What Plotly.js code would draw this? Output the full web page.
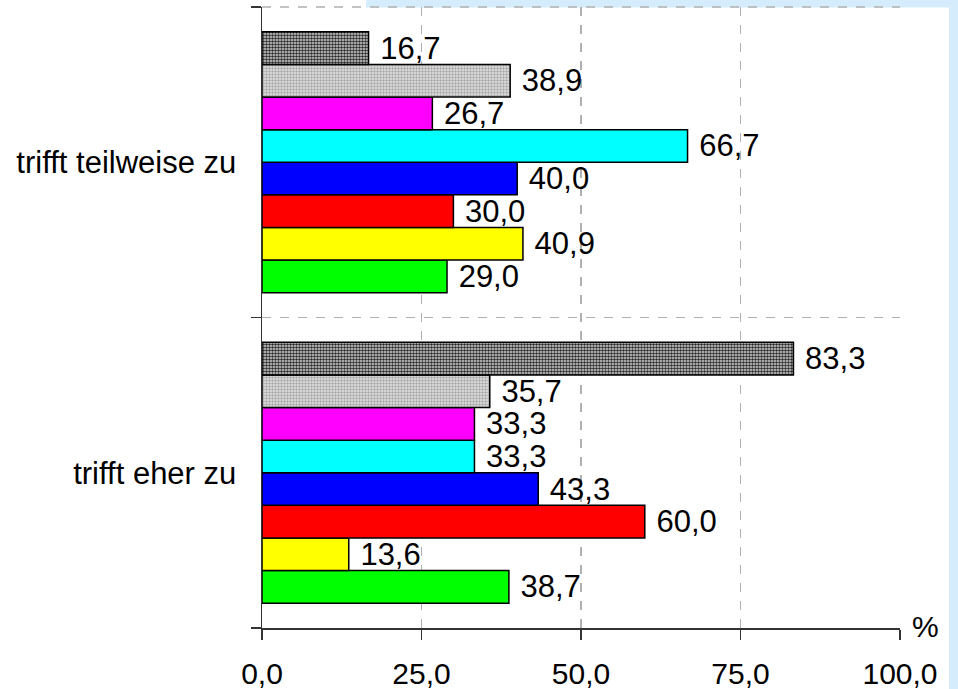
<!DOCTYPE html>
<html>
<head>
<meta charset="utf-8">
<script src="https://cdn.plot.ly/plotly-3.0.1.min.js"></script>
<style>
  html, body { margin: 0; padding: 0; background: #ffffff; }
  #chart { width: 958px; height: 689px; }
</style>
</head>
<body>
<div id="chart"></div>
<script>
// Answer categories, bottom to top on the y axis
const categories = ['trifft eher zu', 'trifft teilweise zu'];

// Percent values per group, in category order [eher, teilweise]
const seriesGreen     = [38.7, 29.0];
const seriesYellow    = [13.6, 40.9];
const seriesRed       = [60.0, 30.0];
const seriesBlue      = [43.3, 40.0];
const seriesCyan      = [33.3, 66.7];
const seriesMagenta   = [33.3, 26.7];
const seriesLightGrey = [35.7, 38.9];
const seriesDarkGrey  = [83.3, 16.7];

const xTickValues = [0, 25, 50, 75, 100];

const FONT = 'Liberation Sans, Arial, sans-serif';
const TICK_SIZE = 30;
const CAT_SIZE = 31;
const LABEL_SIZE = 31;

function barTrace(name, values, color, pattern) {
  const marker = { color: color, line: { color: '#000000', width: 1.5 } };
  if (pattern) marker.pattern = pattern;
  return {
    type: 'bar',
    orientation: 'h',
    name: name,
    y: categories,
    x: values,
    marker: marker,
    // non-breaking space keeps a little air between bar end and value
    text: values.map(v => '\u00a0' + v.toFixed(1).replace('.', ',')),
    textposition: 'outside',
    constraintext: 'none',
    cliponaxis: false,
    textfont: { family: FONT, size: LABEL_SIZE, color: '#000000' },
    hoverinfo: 'x+name'
  };
}

// First trace sits at the bottom of each group
const traces = [
  barTrace('Gruppe 8', seriesGreen, '#00ff00'),
  barTrace('Gruppe 7', seriesYellow, '#ffff00'),
  barTrace('Gruppe 6', seriesRed, '#ff0000'),
  barTrace('Gruppe 5', seriesBlue, '#0000ff'),
  barTrace('Gruppe 4', seriesCyan, '#00ffff'),
  barTrace('Gruppe 3', seriesMagenta, '#ff00ff'),
  barTrace('Gruppe 2', seriesLightGrey, '#d0d0d0',
    { shape: '.', fgcolor: '#a8a8a8', bgcolor: '#e4e4e4', size: 3, solidity: 0.5 }),
  barTrace('Gruppe 1', seriesDarkGrey, '#888888',
    { shape: '.', fgcolor: '#2a2a2a', bgcolor: '#d8d8d8', size: 3, solidity: 0.55 })
];

const layout = {
  width: 958,
  height: 689,
  margin: { l: 262, r: 58, t: 7, b: 61, pad: 0 },
  paper_bgcolor: '#ffffff',
  plot_bgcolor: '#ffffff',
  showlegend: false,
  barmode: 'group',
  bargap: 0.16,
  bargroupgap: 0,
  separators: ',.',
  font: { family: FONT, size: TICK_SIZE, color: '#000000' },
  xaxis: {
    range: [0, 100],
    tickvals: xTickValues,
    tickformat: '.1f',
    ticks: 'outside',
    ticklen: 10,
    tickwidth: 1.5,
    tickcolor: '#333333',
    showline: true,
    linecolor: '#333333',
    linewidth: 1.5,
    showgrid: true,
    gridcolor: '#b0b0b0',
    gridwidth: 1.5,
    griddash: 'dash',
    zeroline: false,
    ticklabelstandoff: 8,
    tickfont: { family: FONT, size: TICK_SIZE, color: '#000000' },
    fixedrange: true
  },
  yaxis: {
    type: 'category',
    tickson: 'boundaries',
    ticks: 'outside',
    ticklen: 10,
    tickwidth: 1.5,
    tickcolor: '#333333',
    showline: true,
    linecolor: '#333333',
    linewidth: 1.5,
    showgrid: true,
    gridcolor: '#b0b0b0',
    gridwidth: 1.5,
    griddash: 'dash',
    zeroline: false,
    ticklabelstandoff: 18,
    tickfont: { family: FONT, size: CAT_SIZE, color: '#000000' },
    fixedrange: true
  },
  shapes: [
    // light blue backdrop strips along the top and right edges
    { type: 'rect', xref: 'paper', yref: 'paper', layer: 'below',
      x0: (366 - 262) / 638, x1: (958 - 262) / 638,
      y0: (628 - 7.5) / 621, y1: 628 / 621,
      fillcolor: '#d5ecfd', line: { width: 0 } },
    { type: 'rect', xref: 'paper', yref: 'paper', layer: 'below',
      x0: (949 - 262) / 638, x1: (958 - 262) / 638,
      y0: (628 - 689) / 621, y1: 628 / 621,
      fillcolor: '#d5ecfd', line: { width: 0 } },
    // dashed upper border of the plot area
    { type: 'line', xref: 'paper', yref: 'paper', layer: 'below',
      x0: 0, x1: 1, y0: 1, y1: 1,
      line: { color: '#b0b0b0', width: 1.5, dash: 'dash' } }
  ],
  annotations: [
    { text: '%', xref: 'paper', yref: 'paper', showarrow: false,
      x: (925 - 262) / 638, y: (628 - 626) / 621,
      xanchor: 'center', yanchor: 'middle',
      font: { family: FONT, size: TICK_SIZE, color: '#000000' } }
  ]
};

Plotly.newPlot('chart', traces, layout, { displayModeBar: false, staticPlot: true });
</script>
</body>
</html>
